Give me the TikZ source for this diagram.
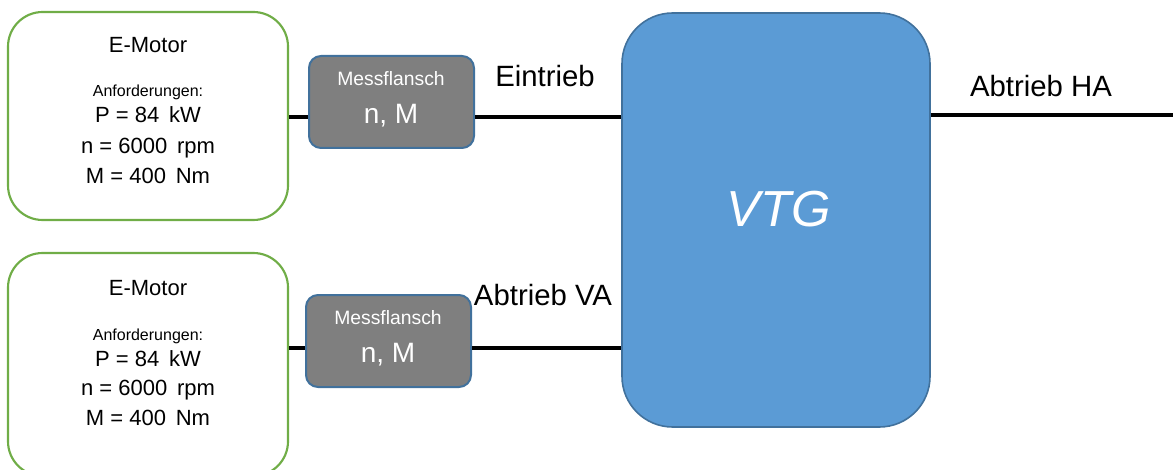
\documentclass[tikz,border=0pt]{standalone}
\usepackage{fontspec}
\setmainfont{Liberation Sans}
\begin{document}
\begin{tikzpicture}[x=0.75pt,y=-0.75pt,
  motorbox/.style={draw=motorgreen,line width=1.6pt,fill=white,rounded corners=26pt,
    minimum width=210pt,inner sep=0pt},
  flangebox/.style={draw=flangeedge,line width=1.5pt,fill=flangegrey,rounded corners=9pt,
    minimum width=123.75pt,minimum height=69pt,inner sep=0pt},
  vtgbox/.style={draw=vtgedge,line width=1.2pt,fill=vtgblue,rounded corners=38pt,
    minimum width=231pt,minimum height=310.5pt,inner sep=0pt},
  txt/.style={anchor=base,inner sep=0pt},
  big/.style={font=\fontsize{16.5}{18}\selectfont},
  small/.style={font=\fontsize{12}{14}\selectfont},
  shaft/.style={line width=2.6pt,black}]
\definecolor{motorgreen}{HTML}{70AD47}
\definecolor{flangegrey}{HTML}{7F7F7F}
\definecolor{flangeedge}{HTML}{41719C}
\definecolor{vtgblue}{HTML}{5B9BD5}
\definecolor{vtgedge}{HTML}{41719C}
\useasboundingbox (0,0) rectangle (1173,470);

% blocks
\node[motorbox,minimum height=156pt] (m1) at (148,116) {};
\node[motorbox,minimum height=167.25pt] (m2) at (148,364.5) {};
\node[flangebox] (f1) at (391.5,102) {};
\node[flangebox] (f2) at (388.5,341) {};
\node[vtgbox] (vtg) at (776,220) {};

% shaft heights
\coordinate (s1) at (0,117);
\coordinate (s2) at (0,348);
\coordinate (ha) at (1173,115);

% shafts
\draw[shaft] (m1.east |- s1) -- (f1.west |- s1);
\draw[shaft] (f1.east |- s1) -- (vtg.west |- s1);
\draw[shaft] (m2.east |- s2) -- (f2.west |- s2);
\draw[shaft] (f2.east |- s2) -- (vtg.west |- s2);
\draw[shaft] (vtg.east |- ha) -- (ha);

% motor texts
\node[txt,big] (t1a) at (148,53) {E-Motor};
\node[txt,small] (t1b) at (148,97) {Anforderungen:};
\node[txt,big] (t1c) at (148,123) {P = 84\, kW};
\node[txt,big] (t1d) at (148,154) {n = 6000\, rpm};
\node[txt,big] (t1e) at (148,184) {M = 400\, Nm};

\node[txt,big] (t2a) at (148,295) {E-Motor};
\node[txt,small] (t2b) at (148,340) {Anforderungen:};
\node[txt,big] (t2c) at (148,366) {P = 84\, kW};
\node[txt,big] (t2d) at (148,395) {n = 6000\, rpm};
\node[txt,big] (t2e) at (148,425) {M = 400\, Nm};

% flange texts
\node[txt,white,font=\fontsize{14.5}{16}\selectfont] (f1a) at (391,86) {Messflansch};
\node[txt,white,font=\fontsize{21}{24}\selectfont] (f1b) at (391,124) {n, M};
\node[txt,white,font=\fontsize{14.5}{16}\selectfont] (f2a) at (388,324) {Messflansch};
\node[txt,white,font=\fontsize{21}{24}\selectfont] (f2b) at (388,362) {n, M};

% shaft labels
\node[txt,font=\fontsize{22}{24}\selectfont] (lein) at (545,87) {Eintrieb};
\node[txt,font=\fontsize{22}{24}\selectfont] (lva) at (543,305) {Abtrieb VA};
\node[txt,font=\fontsize{22}{24}\selectfont] (lha) at (1041,97) {Abtrieb HA};

% gearbox label
\node[txt,white,font=\fontsize{38}{40}\selectfont\itshape] (lvtg) at (779,227) {VTG};
\end{tikzpicture}
\end{document}
